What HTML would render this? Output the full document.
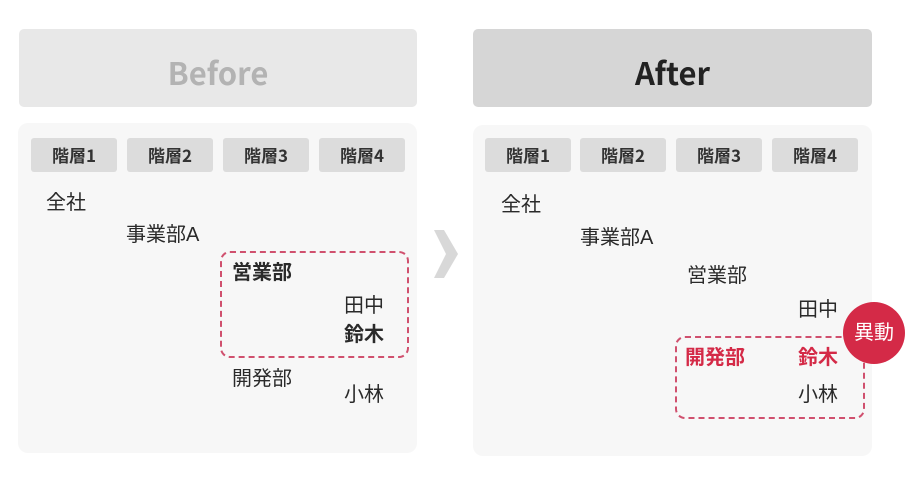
<!DOCTYPE html>
<html><head><meta charset="utf-8"><style>
body{margin:0;width:915px;height:486px;background:#fff;position:relative;font-family:"Liberation Sans","Noto Sans CJK JP",sans-serif;overflow:hidden}
.a{position:absolute}
.hd{position:absolute;top:29px;height:78px;border-radius:5px;font-weight:bold;font-size:31px;text-align:center;line-height:86px;font-family:"Noto Sans CJK JP","Liberation Sans",sans-serif}
.pn{position:absolute;background:#f7f7f7;border-radius:10px}
.tb{position:absolute;top:138px;width:86px;height:34px;background:#dcdcdc;border-radius:3px;font-weight:bold;font-size:17px;text-align:center;line-height:34px;color:#333;font-family:"Noto Sans CJK JP",sans-serif}
.t{position:absolute;font-size:20px;color:#2a2a2a;line-height:24px;white-space:nowrap}
.b{font-weight:bold}
.r{color:#d42a47;font-weight:bold}
.d{position:absolute;border:2px dashed #d0506e;border-radius:10px}
</style></head><body>
<div class="hd" style="left:19px;width:398px;background:#e8e8e8;color:#b3b3b3">Before</div>
<div class="hd" style="left:473px;width:399px;background:#d6d6d6;color:#222">After</div>
<div class="pn" style="left:18px;top:123px;width:399px;height:330px"></div>
<div class="pn" style="left:473px;top:125px;width:399px;height:331px"></div>
<div class="tb" style="left:31px">階層1</div>
<div class="tb" style="left:127px">階層2</div>
<div class="tb" style="left:223px">階層3</div>
<div class="tb" style="left:319px">階層4</div>
<div class="tb" style="left:485px">階層1</div>
<div class="tb" style="left:580px">階層2</div>
<div class="tb" style="left:676px">階層3</div>
<div class="tb" style="left:772px">階層4</div>
<div class="d" style="left:220px;top:251px;width:185px;height:103px"></div>
<div class="t" style="left:46px;top:191px">全社</div>
<div class="t" style="left:126px;top:223px">事業部A</div>
<div class="t b" style="left:232px;top:261px">営業部</div>
<div class="t" style="left:344px;top:294px">田中</div>
<div class="t b" style="left:344px;top:323px">鈴木</div>
<div class="t" style="left:232px;top:367px">開発部</div>
<div class="t" style="left:344px;top:383px">小林</div>
<svg class="a" style="left:433px;top:228px" width="26" height="52"><polygon points="1,2 11,2 25,26 11,50 1,50 13,26" fill="#d8d8d8"/></svg>
<div class="d" style="left:675px;top:336px;width:186px;height:79px"></div>
<div class="t" style="left:501px;top:193px">全社</div>
<div class="t" style="left:580px;top:226px">事業部A</div>
<div class="t" style="left:687px;top:264px">営業部</div>
<div class="t" style="left:798px;top:298px">田中</div>
<div class="t r" style="left:685px;top:346px">開発部</div>
<div class="t r" style="left:798px;top:346px">鈴木</div>
<div class="t" style="left:798px;top:383px">小林</div>
<div class="a" style="left:843px;top:302px;width:62px;height:62px;border-radius:50%;background:#d42a47;color:#fff;font-size:20px;line-height:62px;text-align:center">異動</div>
</body></html>
